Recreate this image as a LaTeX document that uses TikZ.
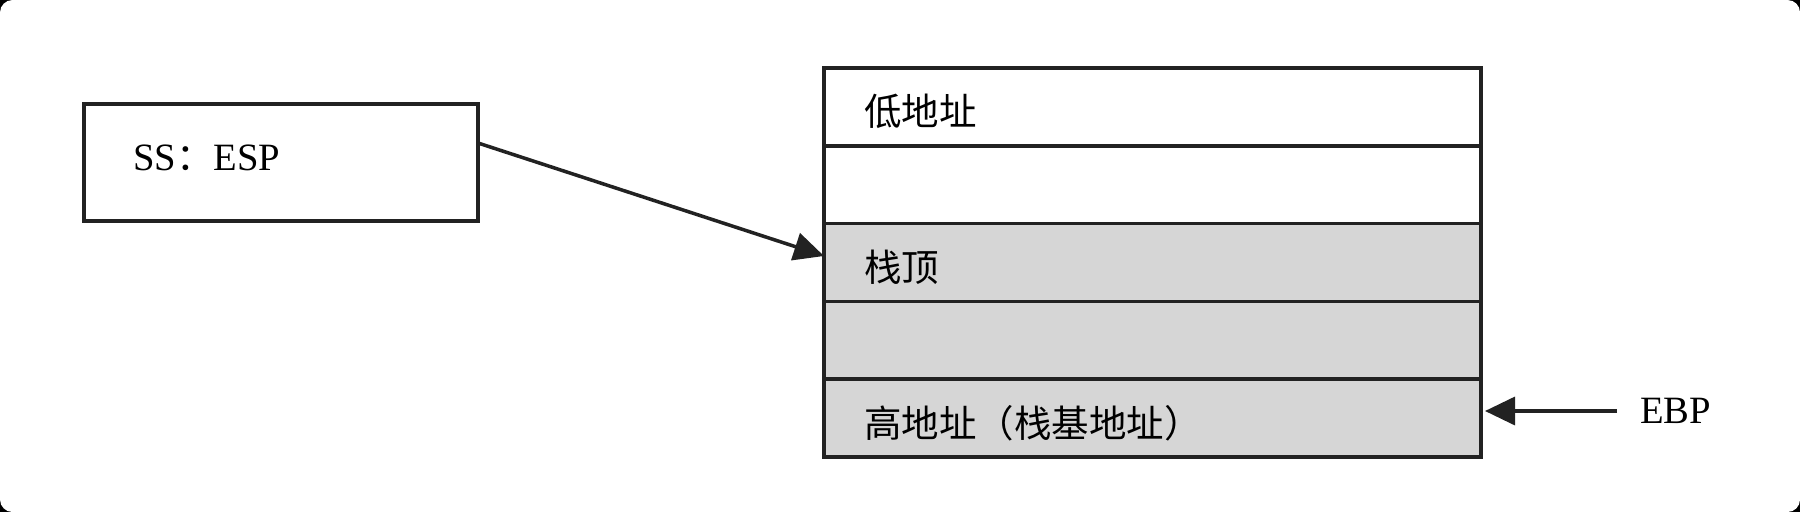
\documentclass[tikz,border=0pt]{standalone}
\usepackage{fontspec}
\setmainfont{Liberation Serif}
\newfontfamily\cjk[Scale=0.97]{Noto Sans CJK SC}
\usepackage{xcolor}
\usepackage{tikz}
\usetikzlibrary{positioning, arrows.meta}

\definecolor{cellgray}{HTML}{D6D6D6}
\definecolor{linegray}{HTML}{222222}

\begin{document}
\begin{tikzpicture}[
    font=\fontsize{22}{26}\selectfont,
    box/.style={draw=linegray, line width=2pt, rectangle, outer sep=0pt, align=left},
    cell/.style={box, inner xsep=0.8cm, text width=11.54cm, minimum height=1.556cm, text height=0.76cm, text depth=0cm},
    stackcell/.style={cell, fill=cellgray},
    pointer/.style={draw=linegray, line width=2pt, -{Triangle[length=0.6cm, width=0.56cm]}}
  ]
    \fill [black] (0, 0) rectangle (36, -10.24);
    \fill [white, rounded corners=0.25cm] (0, 0) rectangle (36, -10.24);
    \useasboundingbox (0, 0) rectangle (36, -10.24);

    \node [box, inner xsep=0.98cm, text width=5.92cm, minimum height=2.34cm, text height=0.42cm, text depth=0.085cm] (ss) at (5.62, -3.25) {SS{\cjk ：}ESP};

    \node [cell] (low) at (23.05, -2.138) {\cjk 低地址};
    \node [cell, below=0pt of low] (free) {};
    \node [stackcell, below=0pt of free] (top) {\cjk 栈顶};
    \node [stackcell, below=0pt of top] (used) {};
    \node [stackcell, below=0pt of used] (base) {\cjk 高地址（栈基地址）};

    \node [anchor=west, outer sep=0pt, inner xsep=0.46cm, inner ysep=0pt] (ebp) at (32.34, -8.22) {EBP};

    \draw [pointer] ([yshift=0.39cm]ss.east) to ([yshift=0.13cm]top.west);
    \draw [pointer, shorten >=0.08cm] (ebp.west) to (ebp.west -| base.east);
  \end{tikzpicture}
\end{document}
